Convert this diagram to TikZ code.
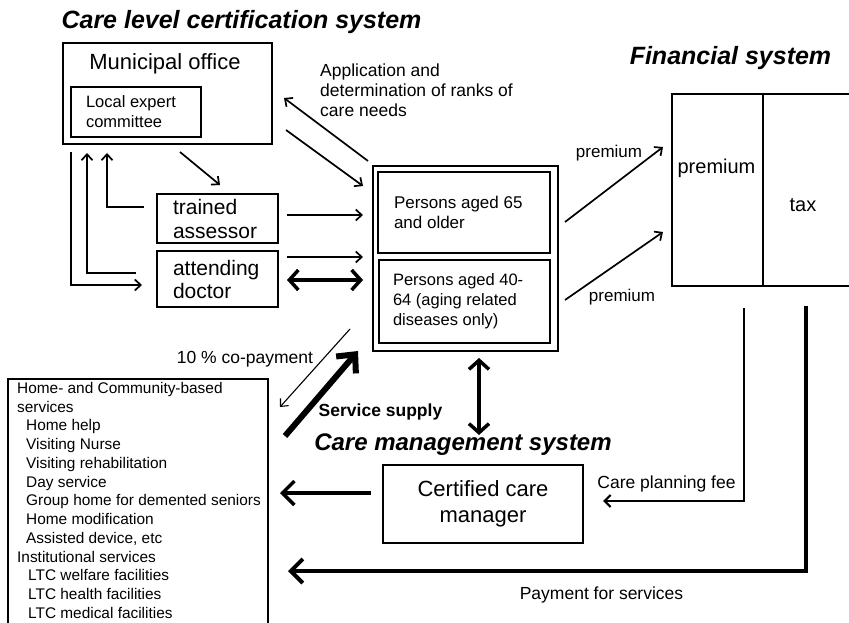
\documentclass[tikz,border=0pt]{standalone}
\usepackage{fontspec}
\setmainfont{Liberation Sans}
\usetikzlibrary{arrows.meta}
\newcommand\fsz[2]{\fontsize{#1pt}{#2pt}\selectfont}
\begin{document}
\begin{tikzpicture}[x=1pt,y=-1pt,
  box/.style={draw, line width=1.7pt, inner sep=0pt},
  lbl/.style={inner sep=0pt},
  ttl/.style={inner sep=0pt, font=\fsz{25}{30}\bfseries\itshape},
  arr/.style={line width=1.7pt, -{Straight Barb[length=6pt,width=11pt]}},
  hairarr/.style={line width=1.1pt, -{Straight Barb[length=6pt,width=11pt]}},
  dblarr/.style={line width=3.5pt, {Straight Barb[length=9pt,width=20pt]}-{Straight Barb[length=9pt,width=20pt]}},
  bigarr/.style={line width=3.5pt, -{Straight Barb[length=12pt,width=24pt]}},
  hugearr/.style={line width=6pt, -{Straight Barb[length=14pt,width=26pt]}},
  flow/.style={line width=2.2pt, -{Straight Barb[length=6pt,width=12pt]}},
  flowthick/.style={line width=4pt, -{Straight Barb[length=12pt,width=24pt]}}
]
\useasboundingbox (0,0) rectangle (849,623);

% titles
\node[ttl] (tcert) at (241.5,22) {Care level certification system};
\node[ttl] (tfin) at (730.5,58) {Financial system};
\node[ttl, font=\fsz{24}{28}\bfseries\itshape] (tcm) at (463,445) {Care management system};

% municipal office
\node[box, minimum width=209pt, minimum height=101pt] (muni) at (167.5,93.5) {};
\node[lbl, font=\fsz{22}{26}] (munit) at (165,64) {Municipal office};
\node[box, minimum width=130pt, minimum height=50pt, text width=100pt, align=flush left, font=\fsz{16.5}{20}] (comm) at (136,112) {Local expert\\committee};

% assessor / doctor
\node[box, minimum width=121pt, minimum height=49pt, text width=89pt, align=flush left, font=\fsz{21}{24}] (assess) at (217.5,218.5) {trained\\assessor};
\node[box, minimum width=121pt, minimum height=56pt, text width=89pt, align=flush left, font=\fsz{21}{23}] (doc) at (217.5,279) {attending\\doctor};

% persons
\node[draw, line width=1.3pt, inner sep=0pt, minimum width=185pt, minimum height=185pt] (pers) at (465.5,258.5) {};
\node[box, minimum width=172pt, minimum height=81pt, text width=140pt, align=flush left, font=\fsz{17}{20}] (p65) at (464,212.5) {Persons aged 65\\and older};
\node[box, minimum width=171pt, minimum height=83pt, text width=143pt, align=flush left, font=\fsz{16.5}{20}] (p40) at (464.5,301.5) {\rule{0pt}{1.5pt}Persons aged 40-\\64 (aging related\\diseases only)};

% financial
\node[box, minimum width=200pt, minimum height=192pt] (fin) at (772,190) {};
\coordinate (divx) at (763,0);
\draw[line width=1.7pt] (fin.north -| divx) -- (fin.south -| divx);
\node[lbl, font=\fsz{20}{24}] (finprem) at (716.5,168) {premium};
\node[lbl, font=\fsz{20}{24}] (fintax) at (803,205) {tax};

% care manager
\node[box, minimum width=200pt, minimum height=78pt, align=center, font=\fsz{22}{26}] (ccm) at (483,504) {Certified care\\manager};

% services box
\node[box, minimum width=260pt, minimum height=270pt] (home) at (138,514) {};
\node[lbl, anchor=north west, align=left, font=\fsz{15.4}{18.75}] (homet) at (17,382) {Home- and Community-based\\services\\
\hspace*{9pt}Home help\\
\hspace*{9pt}Visiting Nurse\\
\hspace*{9pt}Visiting rehabilitation\\
\hspace*{9pt}Day service\\
\hspace*{9pt}Group home for demented seniors\\
\hspace*{9pt}Home modification\\
\hspace*{9pt}Assisted device, etc\\
Institutional services\\
\hspace*{11pt}LTC welfare facilities\\
\hspace*{11pt}LTC health facilities\\
\hspace*{11pt}LTC medical facilities};

% labels
\node[lbl, anchor=west, align=left, font=\fsz{17.5}{20}] (applbl) at (320,90) {Application and\\determination of ranks of\\care needs};
\node[lbl, font=\fsz{17}{20}] (prem1) at (609,153) {premium};
\node[lbl, font=\fsz{17}{20}] (prem2) at (622,297) {premium};
\node[lbl, font=\fsz{17.5}{21}] (copay) at (245,359) {10 \% co-payment};
\node[lbl, font=\fsz{17.5}{21}\bfseries] (svc) at (380.5,412) {Service supply};
\node[lbl, font=\fsz{17.5}{21}] (cpf) at (666.5,484) {Care planning fee};
\node[lbl, font=\fsz{17.5}{21}] (pay) at (601.5,595) {Payment for services};

% connector end points
\coordinate (a1s) at (368,161); \coordinate (a1e) at (284,98);
\coordinate (a2s) at (286,130); \coordinate (a2e) at (363,186);
\coordinate (m2as) at (180,152); \coordinate (m2ae) at (220,185);
\coordinate (l1s) at (71,152); \coordinate (l1e) at (142,285);
\coordinate (l2s) at (136,273); \coordinate (l2e) at (87,153);
\coordinate (l3s) at (144,207); \coordinate (l3e) at (107,153);
\coordinate (t1s) at (287,215); \coordinate (t1e) at (363,215);
\coordinate (d1s) at (287,257); \coordinate (d1e) at (363,257);
\coordinate (d2s) at (287,280); \coordinate (d2e) at (363,280);
\coordinate (pr1s) at (565,222); \coordinate (pr1e) at (663,147);
\coordinate (pr2s) at (565,300); \coordinate (pr2e) at (663,232);
\coordinate (cps) at (350,329); \coordinate (cpe) at (280,407);
\coordinate (sss) at (285,436); \coordinate (sse) at (358,351);
\coordinate (vs) at (479,358); \coordinate (ve) at (479,435);
\coordinate (cms) at (371,493); \coordinate (cme) at (280,493);
\coordinate (fts) at (744,308); \coordinate (fte) at (603,501);
\coordinate (fks) at (806,306); \coordinate (fke) at (288,571);

% connectors
\draw[arr] (a1s) -- (a1e);
\draw[arr] (a2s) -- (a2e);
\draw[arr] (m2as) -- (m2ae);
\draw[arr] (l1s) |- (l1e);
\draw[arr] (l2s) -| (l2e);
\draw[arr] (l3s) -| (l3e);
\draw[arr] (t1s) -- (t1e);
\draw[arr] (d1s) -- (d1e);
\draw[dblarr] (d2s) -- (d2e);
\draw[arr] (pr1s) -- (pr1e);
\draw[arr] (pr2s) -- (pr2e);
\draw[hairarr] (cps) -- (cpe);
\draw[hugearr] (sss) -- (sse);
\draw[dblarr] (vs) -- (ve);
\draw[bigarr] (cms) -- (cme);
\draw[flow] (fts) |- (fte);
\draw[flowthick] (fks) |- (fke);
\end{tikzpicture}
\end{document}
